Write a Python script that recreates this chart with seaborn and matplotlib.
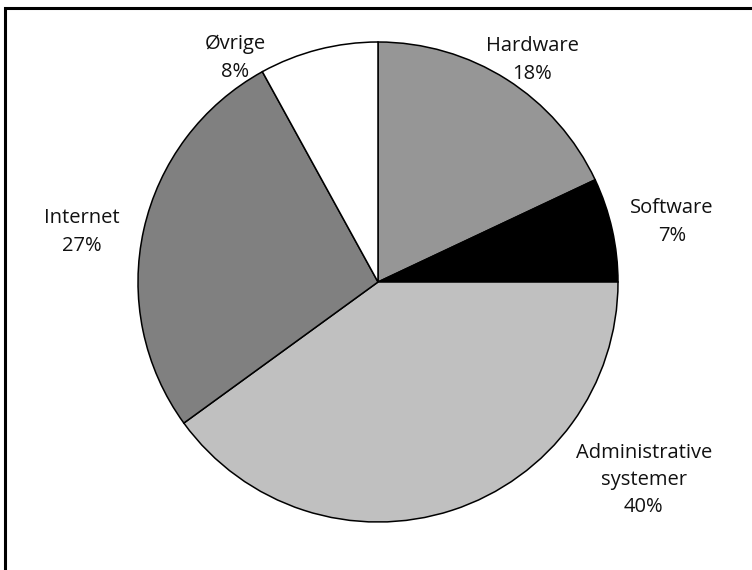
import matplotlib
matplotlib.use("Agg")
import matplotlib.pyplot as plt
from matplotlib.patches import Rectangle
import seaborn as sns

# Budget shares by category
categories = ["Hardware", "Software", "Administrative\nsystemer", "Internet", "Øvrige"]
shares = [18, 7, 40, 27, 8]
colors = ["#969696", "#000000", "#c0c0c0", "#808080", "#ffffff"]

# Label anchor points (in units of the pie radius, relative to its centre)
label_pos = [(0.642, 0.925), (1.225, 0.25), (1.108, -0.825), (-1.233, 0.208), (-0.596, 0.933)]

sns.set_theme(style="white")
plt.rcParams["font.family"] = ["Open Sans", "DejaVu Sans"]

W, H = 752, 570
cx, cy, r = 378, 282, 240
fig = plt.figure(figsize=(W / 100, H / 100), dpi=100)
ax = fig.add_axes([0, 0, 1, 1])

ax.pie(shares, colors=colors, startangle=90, counterclock=False, radius=1,
       wedgeprops=dict(edgecolor="black", linewidth=1.1))

for cat, val, (lx, ly) in zip(categories, shares, label_pos):
    ax.text(lx, ly, f"{cat}\n{val}%", ha="center", va="center",
            fontsize=14.5, color="#111111", linespacing=1.5)

ax.set_xlim(-cx / r, (W - cx) / r)
ax.set_ylim(-(H - cy) / r, cy / r)
ax.set_aspect("auto")
ax.axis("off")

# Outer frame around the chart
fig.add_artist(Rectangle((5 / W, -0.1), 1.2, (1 - 7.5 / H) + 0.1,
                         transform=fig.transFigure, fill=False,
                         edgecolor="black", linewidth=2.2))

fig.savefig("out.png", dpi=100, facecolor="white")
